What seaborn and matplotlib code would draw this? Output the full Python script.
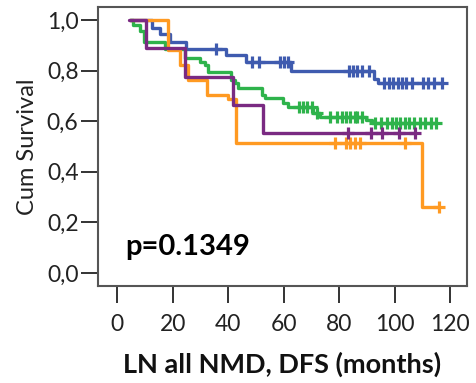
import numpy as np
import pandas as pd
import matplotlib
matplotlib.use("Agg")
import matplotlib.pyplot as plt
import seaborn as sns

# ---- data ----
groups = ["blue", "green", "orange", "purple"]
colors = {"blue": "#3F5BAF", "green": "#2EB34B", "orange": "#FF9A22", "purple": "#7A2A82"}

start_time = {"blue": 4.5, "green": 4.5, "orange": 4.5, "purple": 4.3}
end_time = {"blue": 117.0, "green": 115.0, "orange": 115.8, "purple": 107.4}

blue_event_t = [12.4, 15.4, 19.0, 24.7, 39.0, 46.5, 62.7, 92.6, 94.0]
blue_surv = [0.967, 0.943, 0.914, 0.884, 0.862, 0.835, 0.798, 0.765, 0.752]
blue_cens = [35.7, 48.4, 51.1, 58.5, 60.0, 61.5, 83.5, 85.0, 86.5, 88.0, 90.5,
             96.0, 98.0, 99.5, 101.0, 102.5, 104.0, 106.0, 110.0, 112.0, 114.0, 117.0]

green_event_t = [5.5, 8.0, 9.5, 17.2, 24.4, 29.7, 31.5, 32.7, 41.1, 42.4, 43.6,
                 52.0, 53.2, 59.8, 61.6, 70.5, 73.0, 89.5, 91.6]
green_surv = [0.98, 0.955, 0.914, 0.884, 0.848, 0.835, 0.822, 0.796, 0.763, 0.75, 0.73,
              0.704, 0.69, 0.67, 0.655, 0.632, 0.618, 0.605, 0.592]
green_cens = [65.5, 67.0, 68.5, 70.0, 72.0, 76.5, 79.0, 81.0, 82.5, 84.0, 85.5, 86.5, 88.0,
              93.0, 95.0, 97.0, 99.0, 100.5, 102.0, 103.5, 105.0, 107.0, 109.0, 111.0, 113.0, 115.0]

orange_event_t = [18.1, 22.5, 25.6, 32.4, 40.0, 42.7, 109.9]
orange_surv = [0.88, 0.822, 0.763, 0.704, 0.687, 0.515, 0.26]
orange_cens = [78.3, 82.5, 84.0, 85.5, 87.5, 103.5, 115.8]

purple_event_t = [10.2, 24.3, 41.5, 52.5]
purple_surv = [0.888, 0.776, 0.664, 0.555]
purple_cens = [83.1, 91.5, 95.5, 101.4, 107.4]

events = {"blue": (blue_event_t, blue_surv), "green": (green_event_t, green_surv),
          "orange": (orange_event_t, orange_surv), "purple": (purple_event_t, purple_surv)}
censored = {"blue": blue_cens, "green": green_cens, "orange": orange_cens, "purple": purple_cens}

x_ticks = [0, 20, 40, 60, 80, 100, 120]
y_ticks = [0.0, 0.2, 0.4, 0.6, 0.8, 1.0]
y_tick_labels = ["0,0", "0,2", "0,4", "0,6", "0,8", "1,0"]
p_text = "p=0.1349"
x_label = "LN all NMD, DFS (months)"
y_label = "Cum Survival"

# ---- style ----
sns.set_style("ticks")
plt.rcParams["font.family"] = ["Lato", "DejaVu Sans"]

fig = plt.figure(figsize=(4.77, 3.83), dpi=100)
ax = fig.add_axes([98 / 477, 1 - 286 / 383, (467 - 98) / 477, (286 - 7) / 383])

for g in groups:
    et, sv = events[g]
    t = np.array([start_time[g]] + list(et) + [end_time[g]])
    s = np.array([1.0] + list(sv) + [sv[-1]])
    df = pd.DataFrame({"time": t, "surv": s})
    sns.lineplot(data=df, x="time", y="surv", ax=ax, color=colors[g],
                 drawstyle="steps-post", linewidth=2.4, estimator=None, sort=False)
    c = np.array(censored[g])
    idx = np.searchsorted(t, c, side="right") - 1
    cy = s[np.clip(idx, 0, len(s) - 1)]
    sns.scatterplot(x=c, y=cy, ax=ax, marker="+", s=85, linewidth=2.3,
                    color=colors[g], zorder=3)

ax.set_xlim(-7, 126)
ax.set_ylim(-0.051, 1.051)
ax.set_xticks(x_ticks)
ax.set_yticks(y_ticks)
ax.set_yticklabels(y_tick_labels)
ax.tick_params(axis="both", length=12, width=1.4, color="#333333",
               labelsize=16.5, labelcolor="#222222")
ax.tick_params(axis="x", pad=8)
ax.tick_params(axis="y", pad=2)
for sp in ax.spines.values():
    sp.set_visible(True)
    sp.set_color("#555555")
    sp.set_linewidth(1.5)

ax.set_xlabel(x_label, fontsize=19.5, fontweight="bold", color="#111111", labelpad=12)
ax.set_ylabel(y_label, fontsize=17, color="#222222", labelpad=6)
ax.text(3.0, 0.07, p_text, fontsize=21, fontweight="bold", color="#000000", va="baseline")

fig.savefig("out.png", dpi=100)
